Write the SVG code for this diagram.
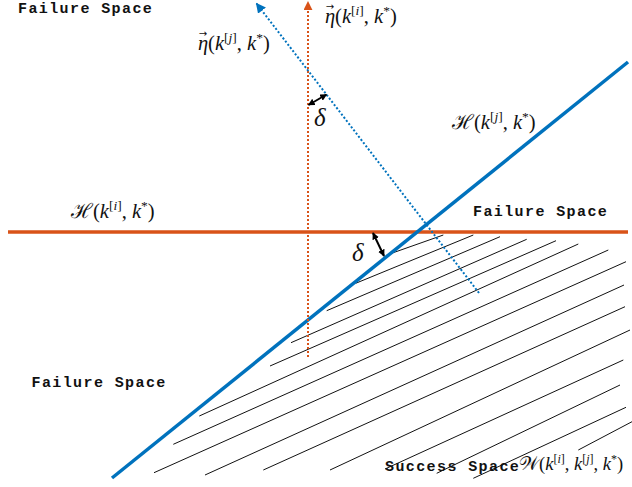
<svg xmlns="http://www.w3.org/2000/svg" width="632" height="487" viewBox="0 0 632 487">
<defs>
<style>
.lbl{font-family:"Liberation Mono","DejaVu Sans Mono",monospace;font-weight:bold;font-size:15px;letter-spacing:1.4px;fill:#111}
.m{font-family:"Liberation Serif","DejaVu Serif",serif;font-size:20.5px;fill:#111}
.i{font-style:italic}
.sup{font-size:13.5px}
.acc{font-family:"DejaVu Sans",sans-serif;font-size:10px;font-style:normal}
.dl{font-family:"Liberation Serif","DejaVu Serif",serif;font-size:25px;font-style:italic;fill:#111}
.hatch{stroke:#111;stroke-width:1;fill:none}
.solidO{stroke:#D95319;stroke-width:3.5;fill:none}
.solidB{stroke:#0072BD;stroke-width:3.5;fill:none}
.dotO{stroke:#D95319;stroke-width:2;stroke-dasharray:2 2;fill:none}
.dotB{stroke:#0072BD;stroke-width:2;stroke-dasharray:2 2;fill:none}
.dbl{stroke:#000;stroke-width:2;fill:none}
</style>
<marker id="arrO" viewBox="0 0 10 10" refX="9" refY="5" markerWidth="9" markerHeight="9" markerUnits="userSpaceOnUse" orient="auto"><path d="M0,0 L10,5 L0,10 z" fill="#D95319"/></marker>
<marker id="arrB" viewBox="0 0 10 10" refX="9" refY="5" markerWidth="10" markerHeight="10" markerUnits="userSpaceOnUse" orient="auto"><path d="M0,0 L10,5 L0,10 z" fill="#0072BD"/></marker>
<marker id="arrK" viewBox="0 0 10 10" refX="9" refY="5" markerWidth="7" markerHeight="7" markerUnits="userSpaceOnUse" orient="auto-start-reverse"><path d="M0,0 L10,5 L0,10 z" fill="#000"/></marker>
</defs>
<rect width="632" height="487" fill="#fff"/>

<g id="hatching">
<line class="hatch" x1="386.7" y1="255" x2="443.3" y2="235"/>
<line class="hatch" x1="355.7" y1="283.3" x2="473.3" y2="235"/>
<line class="hatch" x1="326.7" y1="310.7" x2="500" y2="236.7"/>
<line class="hatch" x1="291" y1="342.7" x2="526.7" y2="239.3"/>
<line class="hatch" x1="270" y1="366" x2="556" y2="240.7"/>
<line class="hatch" x1="199.3" y1="416" x2="578.3" y2="244"/>
<line class="hatch" x1="173.3" y1="444.3" x2="608.3" y2="250"/>
<line class="hatch" x1="154" y1="472.7" x2="626" y2="261.7"/>
<line class="hatch" x1="205" y1="475" x2="624" y2="285"/>
<line class="hatch" x1="263.3" y1="470" x2="625" y2="306.7"/>
<line class="hatch" x1="330" y1="470" x2="630" y2="330"/>
<line class="hatch" x1="385" y1="469" x2="623.3" y2="360"/>
<line class="hatch" x1="436.7" y1="473.3" x2="620" y2="385"/>
<line class="hatch" x1="473.3" y1="478.3" x2="626" y2="407.3"/>
<line class="hatch" x1="578.3" y1="450" x2="632" y2="421.7"/>
</g>

<g id="connectors">
<line id="H-i" class="solidO" x1="8" y1="232" x2="628" y2="232"/>
<line id="H-j" class="solidB" x1="112" y1="478" x2="628" y2="62"/>
<line id="eta-i" class="dotO" x1="308" y1="357" x2="308" y2="2" marker-end="url(#arrO)"/>
<line id="eta-j" class="dotB" x1="479" y1="293" x2="256.5" y2="3.5" marker-end="url(#arrB)"/>
<line id="delta-top" class="dbl" x1="308.5" y1="105" x2="326.5" y2="94.5" marker-start="url(#arrK)" marker-end="url(#arrK)"/>
<line id="delta-bot" class="dbl" x1="373" y1="233" x2="384" y2="256" marker-start="url(#arrK)" marker-end="url(#arrK)"/>
</g>

<g id="label-failure-top"><text class="lbl" x="18" y="12.5">Failure Space</text></g>
<g id="label-failure-right"><text class="lbl" x="473" y="216">Failure Space</text></g>
<g id="label-failure-left"><text class="lbl" x="31.5" y="387">Failure Space</text></g>
<g id="label-success"><text class="lbl" x="385" y="471">Success Space</text></g>

<g id="eta-i-label"><text class="m" x="325" y="23"><tspan class="i">η</tspan><tspan class="acc" dx="-9.5" dy="-13">→</tspan><tspan dx="1" dy="13">(</tspan><tspan class="i">k</tspan><tspan class="sup" dy="-8">[<tspan class="i">i</tspan>]</tspan><tspan dy="8">, </tspan><tspan class="i">k</tspan><tspan class="sup" dy="-8">*</tspan><tspan dy="8">)</tspan></text></g>
<g id="eta-j-label"><text class="m" x="198" y="50"><tspan class="i">η</tspan><tspan class="acc" dx="-9.5" dy="-13">→</tspan><tspan dx="1" dy="13">(</tspan><tspan class="i">k</tspan><tspan class="sup" dy="-8">[<tspan class="i">j</tspan>]</tspan><tspan dy="8">, </tspan><tspan class="i">k</tspan><tspan class="sup" dy="-8">*</tspan><tspan dy="8">)</tspan></text></g>
<g id="H-j-label"><text class="m" x="452" y="129">ℋ(<tspan class="i">k</tspan><tspan class="sup" dy="-8">[<tspan class="i">j</tspan>]</tspan><tspan dy="8">, </tspan><tspan class="i">k</tspan><tspan class="sup" dy="-8">*</tspan><tspan dy="8">)</tspan></text></g>
<g id="H-i-label"><text class="m" x="71" y="218">ℋ(<tspan class="i">k</tspan><tspan class="sup" dy="-8">[<tspan class="i">i</tspan>]</tspan><tspan dy="8">, </tspan><tspan class="i">k</tspan><tspan class="sup" dy="-8">*</tspan><tspan dy="8">)</tspan></text></g>
<g id="W-label"><text class="m" x="519" y="470" style="font-size:18.5px">𝒲(<tspan class="i">k</tspan><tspan class="sup" style="font-size:12px" dy="-7">[<tspan class="i">i</tspan>]</tspan><tspan dy="7">, </tspan><tspan class="i">k</tspan><tspan class="sup" style="font-size:12px" dy="-7">[<tspan class="i">j</tspan>]</tspan><tspan dy="7">, </tspan><tspan class="i">k</tspan><tspan class="sup" style="font-size:12px" dy="-7">*</tspan><tspan dy="7">)</tspan></text></g>
<g id="delta-top-label"><text class="dl" x="314" y="126">δ</text></g>
<g id="delta-bot-label"><text class="dl" x="352" y="261">δ</text></g>
</svg>
